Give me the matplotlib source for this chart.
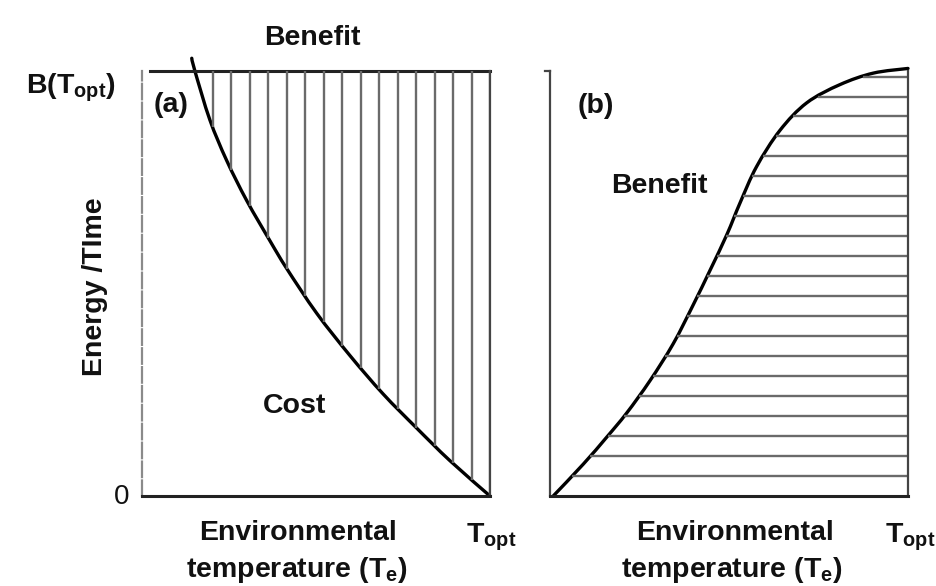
import matplotlib
matplotlib.use("Agg")
import matplotlib.pyplot as plt
from matplotlib.path import Path
from matplotlib.patches import PathPatch
import numpy as np

plt.rcParams['font.family'] = ['Liberation Sans', 'DejaVu Sans']
plt.rcParams['mathtext.fontset'] = 'custom'
plt.rcParams['mathtext.rm'] = 'Liberation Sans:bold'
plt.rcParams['mathtext.bf'] = 'Liberation Sans:bold'
plt.rcParams['mathtext.it'] = 'Liberation Sans:bold'

# panel (a): cost curve (0..1 of the axes)
cost_x = [0.143, 0.152, 0.195, 0.243, 0.301, 0.368, 0.416, 0.502, 0.598, 0.693, 0.789, 0.885, 1.0]
cost_y = [1.03, 1.0, 0.885, 0.79, 0.695, 0.600, 0.535, 0.430, 0.330, 0.240, 0.160, 0.083, 0.0]

# panel (b): benefit curve
ben_x = [0.009, 0.093, 0.158, 0.214, 0.279, 0.344, 0.399, 0.447, 0.494, 0.531,
         0.577, 0.642, 0.717, 0.810, 0.903, 1.0]
ben_y = [0.0, 0.075, 0.138, 0.195, 0.271, 0.358, 0.448, 0.531, 0.615, 0.69,
         0.775, 0.86, 0.925, 0.968, 0.995, 1.006]

hatch_col = '#6a6a6a'
W, H = 937, 586

fig = plt.figure(figsize=(9.37, 5.86), dpi=100)
fig.patch.set_facecolor('white')

def ax_at(px_left, px_width):
    return fig.add_axes([px_left / W, (H - 496) / H, px_width / W, 425 / H])

def ftext(px, py, s, **kw):
    fig.text(px / W, 1 - py / H, s, ha='center', va='center', **kw)

def smooth_curve(ax, xs, ys):
    # bezier path through the read points (Catmull-Rom control points)
    p = np.column_stack([xs, ys])
    verts = [p[0]]
    codes = [Path.MOVETO]
    for i in range(len(p) - 1):
        p0 = p[i - 1] if i > 0 else p[i]
        p3 = p[i + 2] if i + 2 < len(p) else p[i + 1]
        c1 = p[i] + (p[i + 1] - p0) / 6
        c2 = p[i + 1] - (p3 - p[i]) / 6
        verts += [c1, c2, p[i + 1]]
        codes += [Path.CURVE4] * 3
    ax.add_patch(PathPatch(Path(verts, codes), fill=False, ec='black',
                           lw=2.4, clip_on=False, capstyle='round'))

ax_a = ax_at(142, 348)
ax_b = ax_at(550, 358)
for ax in (ax_a, ax_b):
    ax.set_xlim(0, 1)
    ax.set_ylim(0, 1)
    ax.set_xticks([])
    ax.set_yticks([])
    ax.spines['top'].set_visible(False)
    ax.spines['bottom'].set_color('#222222')
    ax.spines['bottom'].set_linewidth(2.2)
    ax.spines['right'].set_color('#444444')
    ax.spines['right'].set_linewidth(1.6)

# ---- panel (a)
ax_a.spines['left'].set_color('#8a8a8a')
ax_a.spines['left'].set_linewidth(1.6)
ax_a.spines['left'].set_linestyle((0, (7, 1.5)))
ax_a.axhline(1.0, xmin=0.023, xmax=1.0, color='#222222', lw=2.2, clip_on=False)

vx = np.linspace(0.204, 1.0, 16)
vbottom = np.interp(vx, cost_x, cost_y)
ax_a.vlines(vx, vbottom, 1.0, color=hatch_col, lw=1.7)
smooth_curve(ax_a, cost_x, cost_y)

# ---- panel (b)
ax_b.spines['left'].set_color('#444444')
ax_b.spines['left'].set_linewidth(1.6)
ax_b.plot([-0.015, 0], [1.0, 1.0], color='#444444', lw=1.6, clip_on=False)

hy = np.arange(1, 22) * 0.047
hleft = np.interp(hy, ben_y, ben_x)
ax_b.hlines(hy, hleft, 1.0, color=hatch_col, lw=1.7)
smooth_curve(ax_b, ben_x, ben_y)

# ---- labels
big = dict(fontsize=20.5, fontweight='bold', color='#111111')
ftext(312, 38, 'Benefit', **big)
ftext(71, 88, r'B(T$_\mathrm{opt}$)', **big)
ftext(171, 105, '(a)', **big)
ftext(95, 287, 'Energy /TIme', rotation=90, **big)
ftext(122, 497, '0', fontsize=20, color='#111111')
ftext(295, 406, 'Cost', **big)
ftext(298, 533, 'Environmental', **big)
ftext(297, 570, r'temperature (T$_\mathrm{e}$)', **big)
ftext(491, 537, r'T$_\mathrm{opt}$', **big)

ftext(596, 106, '(b)', **big)
ftext(659, 186, 'Benefit', **big)
ftext(735, 533, 'Environmental', **big)
ftext(732, 570, r'temperature (T$_\mathrm{e}$)', **big)
ftext(910, 537, r'T$_\mathrm{opt}$', **big)

fig.savefig('out.png', dpi=100, facecolor='white')
